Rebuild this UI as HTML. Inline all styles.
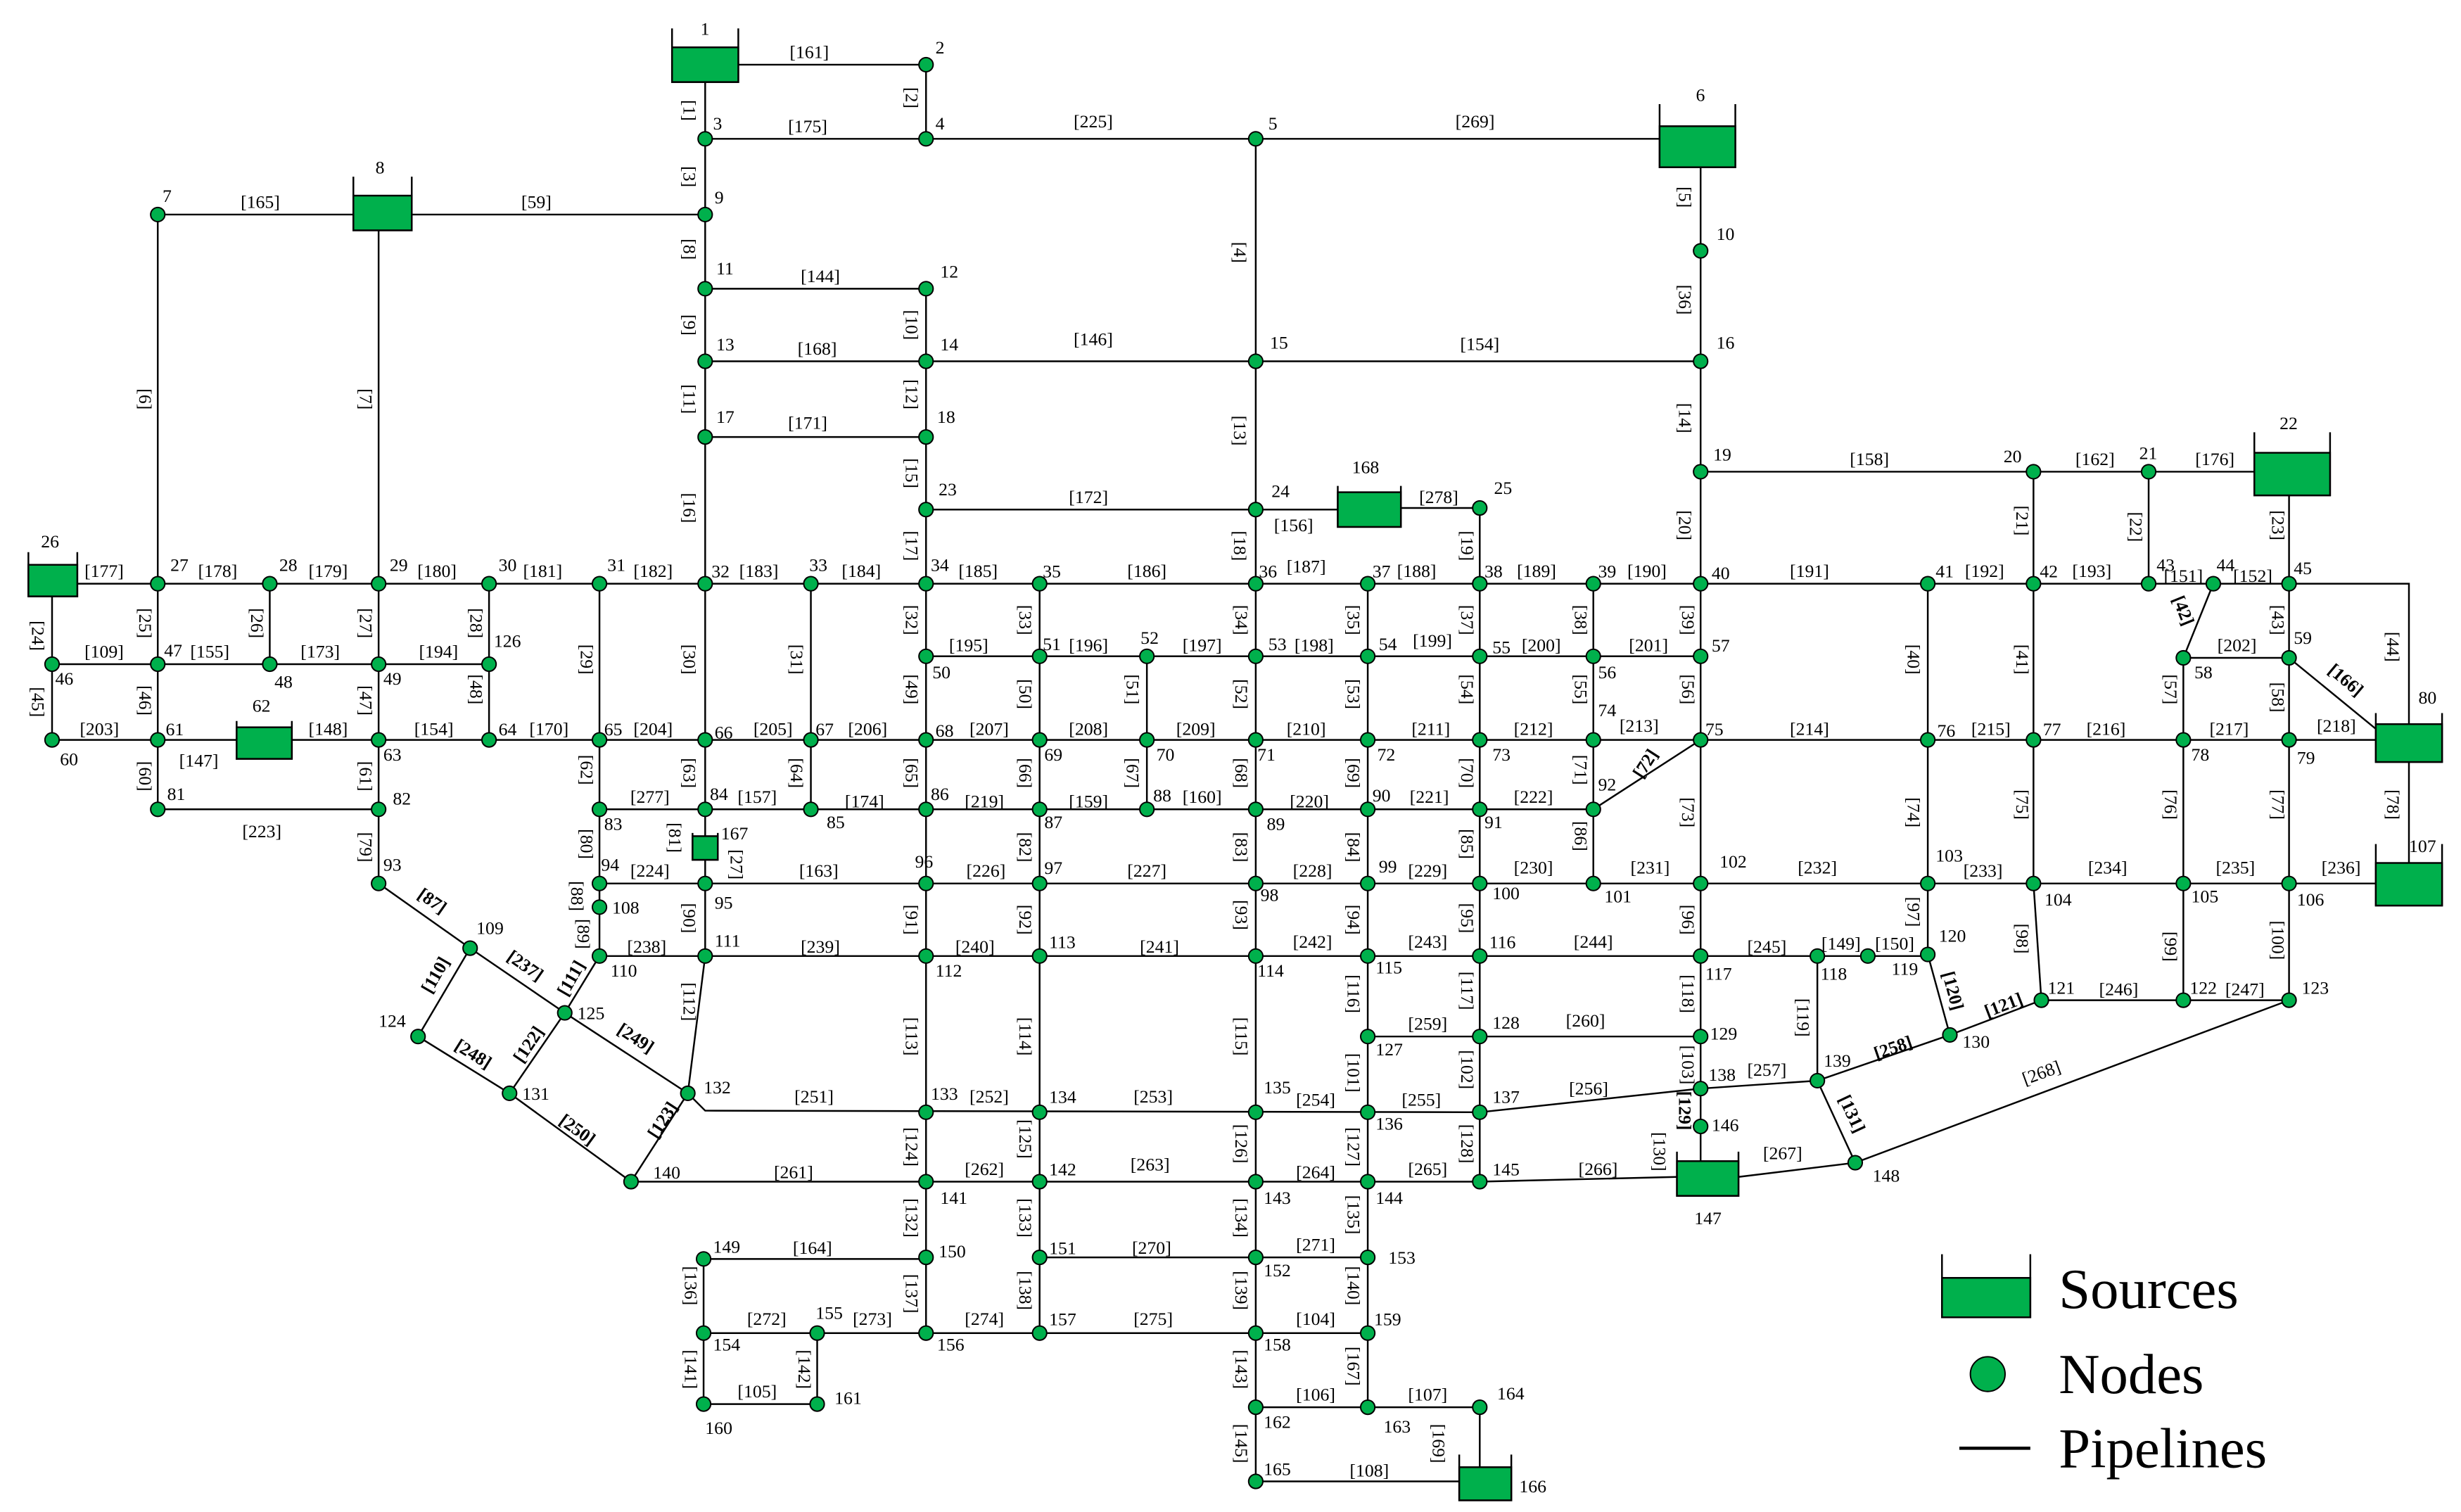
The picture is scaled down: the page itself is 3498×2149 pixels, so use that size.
<!DOCTYPE html>
<html><head><meta charset="utf-8"><style>
html,body{margin:0;padding:0;background:#fff}
svg{display:block}
text{font-family:"Liberation Serif",serif;fill:#000}
.n{font-size:11.5px}
.p{font-size:11.5px;text-anchor:middle;dominant-baseline:central}
.b{font-weight:bold}
line,polyline{stroke:#000;stroke-width:1.1;fill:none}
circle{fill:#00b04c;stroke:#000;stroke-width:0.9}
.g{fill:#00b04c;stroke:#000;stroke-width:1.1}
</style></head><body>
<svg width="3498" height="2149" viewBox="0 0 1560 958.4" preserveAspectRatio="none" xmlns="http://www.w3.org/2000/svg">
<rect width="1560" height="959" fill="#fff"/>
<g>
<!-- edges -->
<line x1="447" y1="41" x2="587" y2="41"/>
<line x1="587" y1="41" x2="587" y2="88"/>
<line x1="447" y1="41" x2="447" y2="606"/>
<line x1="447" y1="88" x2="1076" y2="88"/>
<line x1="796" y1="88" x2="796" y2="939"/>
<line x1="1078" y1="93" x2="1078" y2="749"/>
<line x1="100" y1="136" x2="447" y2="136"/>
<line x1="100" y1="136" x2="100" y2="513"/>
<line x1="240" y1="136" x2="240" y2="560"/>
<line x1="447" y1="183" x2="587" y2="183"/>
<line x1="447" y1="229" x2="1078" y2="229"/>
<line x1="447" y1="277" x2="587" y2="277"/>
<line x1="587" y1="183" x2="587" y2="845"/>
<line x1="1078" y1="299" x2="1452" y2="299"/>
<line x1="1289" y1="299" x2="1289" y2="560"/>
<line x1="1362" y1="299" x2="1362" y2="370"/>
<line x1="1451" y1="299" x2="1451" y2="634"/>
<line x1="587" y1="323" x2="848" y2="323"/>
<line x1="888" y1="322" x2="938" y2="322"/>
<line x1="938" y1="322" x2="938" y2="749"/>
<line x1="33" y1="370" x2="1451" y2="370"/>
<polyline points="1451,370 1527,370 1527,459"/>
<line x1="1527" y1="483" x2="1527" y2="547"/>
<line x1="33" y1="370" x2="33" y2="469"/>
<line x1="33" y1="421" x2="310" y2="421"/>
<line x1="171" y1="370" x2="171" y2="421"/>
<line x1="310" y1="370" x2="310" y2="469"/>
<line x1="380" y1="370" x2="380" y2="606"/>
<line x1="514" y1="370" x2="514" y2="513"/>
<line x1="659" y1="370" x2="659" y2="845"/>
<line x1="867" y1="370" x2="867" y2="513"/>
<line x1="1010" y1="370" x2="1010" y2="560"/>
<line x1="1222" y1="370" x2="1222" y2="605"/>
<line x1="1403" y1="370" x2="1384" y2="417"/>
<line x1="1384" y1="417" x2="1384" y2="634"/>
<line x1="587" y1="416" x2="1078" y2="416"/>
<line x1="727" y1="416" x2="727" y2="513"/>
<line x1="1384" y1="417" x2="1451" y2="417"/>
<line x1="1451" y1="417" x2="1506" y2="462"/>
<line x1="33" y1="469" x2="1506" y2="469"/>
<line x1="100" y1="513" x2="240" y2="513"/>
<line x1="380" y1="513" x2="1010" y2="513"/>
<line x1="1078" y1="469" x2="1010" y2="513"/>
<line x1="867" y1="513" x2="867" y2="606"/>
<line x1="380" y1="560" x2="1506" y2="560"/>
<line x1="240" y1="560" x2="298" y2="601"/>
<line x1="298" y1="601" x2="358" y2="642"/>
<line x1="298" y1="601" x2="265" y2="657"/>
<line x1="380" y1="606" x2="358" y2="642"/>
<line x1="358" y1="642" x2="436" y2="693"/>
<line x1="265" y1="657" x2="323" y2="693"/>
<line x1="358" y1="642" x2="323" y2="693"/>
<line x1="323" y1="693" x2="400" y2="749"/>
<line x1="436" y1="693" x2="400" y2="749"/>
<line x1="380" y1="606" x2="1222" y2="606"/>
<line x1="447" y1="606" x2="436" y2="693"/>
<polyline points="436,693 447,704 938,705"/>
<line x1="867" y1="606" x2="867" y2="892"/>
<line x1="867" y1="657" x2="1078" y2="657"/>
<line x1="938" y1="705" x2="1078" y2="690"/>
<line x1="1078" y1="690" x2="1152" y2="685"/>
<line x1="1152" y1="606" x2="1152" y2="685"/>
<line x1="1152" y1="685" x2="1236" y2="656"/>
<line x1="1152" y1="685" x2="1176" y2="737"/>
<line x1="1222" y1="605" x2="1236" y2="656"/>
<line x1="1236" y1="656" x2="1294" y2="634"/>
<line x1="1289" y1="560" x2="1294" y2="634"/>
<line x1="1294" y1="634" x2="1451" y2="634"/>
<line x1="1451" y1="634" x2="1176" y2="737"/>
<line x1="1102" y1="746" x2="1176" y2="737"/>
<line x1="400" y1="749" x2="938" y2="749"/>
<line x1="938" y1="749" x2="1063" y2="746"/>
<line x1="446" y1="798" x2="587" y2="798"/>
<line x1="446" y1="798" x2="446" y2="890"/>
<line x1="659" y1="797" x2="867" y2="797"/>
<line x1="446" y1="845" x2="867" y2="845"/>
<line x1="518" y1="845" x2="518" y2="890"/>
<line x1="446" y1="890" x2="518" y2="890"/>
<line x1="796" y1="892" x2="938" y2="892"/>
<line x1="938" y1="892" x2="938" y2="930"/>
<line x1="796" y1="939" x2="925" y2="939"/>
</g>
<g>
<!-- tanks -->
<polyline points="426,18 426,52 468,52 468,18"/><rect class="g" x="426" y="30" width="42" height="22"/>
<polyline points="1052,66 1052,106 1100,106 1100,66"/><rect class="g" x="1052" y="80" width="48" height="26"/>
<polyline points="224,112 224,146 261,146 261,112"/><rect class="g" x="224" y="124" width="37" height="22"/>
<polyline points="1429,274 1429,314 1477,314 1477,274"/><rect class="g" x="1429" y="287" width="48" height="27"/>
<polyline points="18,350 18,378 49,378 49,350"/><rect class="g" x="18" y="358" width="31" height="20"/>
<polyline points="150,457 150,481 185,481 185,457"/><rect class="g" x="150" y="461" width="35" height="20"/>
<polyline points="1506,452 1506,483 1548,483 1548,452"/><rect class="g" x="1506" y="459" width="42" height="24"/>
<polyline points="1506,535 1506,574 1548,574 1548,535"/><rect class="g" x="1506" y="547" width="42" height="27"/>
<polyline points="848,308 848,334 888,334 888,308"/><rect class="g" x="848" y="312" width="40" height="22"/>
<polyline points="439,528 439,545 455,545 455,528"/><rect class="g" x="439" y="530" width="16" height="15"/>
<polyline points="1063,730 1063,758 1102,758 1102,730"/><rect class="g" x="1063" y="736" width="39" height="22"/>
<polyline points="925,922 925,951 958,951 958,922"/><rect class="g" x="925" y="930" width="33" height="21"/>
<polyline points="1231,795 1231,835 1287,835 1287,795"/><rect class="g" x="1231" y="810" width="56" height="25"/>
<circle cx="1260" cy="871" r="11"/>
<line x1="1242" y1="918" x2="1287" y2="918" style="stroke-width:2"/>
<text x="1305" y="829" style="font-size:36px">Sources</text>
<text x="1305" y="883" style="font-size:36px">Nodes</text>
<text x="1305" y="930" style="font-size:36px">Pipelines</text>
</g>
<g>
<!-- nodes -->
<circle cx="587" cy="41" r="4.5"/><circle cx="447" cy="88" r="4.5"/><circle cx="587" cy="88" r="4.5"/><circle cx="796" cy="88" r="4.5"/>
<circle cx="100" cy="136" r="4.5"/><circle cx="447" cy="136" r="4.5"/><circle cx="1078" cy="159" r="4.5"/>
<circle cx="447" cy="183" r="4.5"/><circle cx="587" cy="183" r="4.5"/>
<circle cx="447" cy="229" r="4.5"/><circle cx="587" cy="229" r="4.5"/><circle cx="796" cy="229" r="4.5"/><circle cx="1078" cy="229" r="4.5"/>
<circle cx="447" cy="277" r="4.5"/><circle cx="587" cy="277" r="4.5"/>
<circle cx="1078" cy="299" r="4.5"/><circle cx="1289" cy="299" r="4.5"/><circle cx="1362" cy="299" r="4.5"/>
<circle cx="587" cy="323" r="4.5"/><circle cx="796" cy="323" r="4.5"/><circle cx="938" cy="322" r="4.5"/>
<circle cx="100" cy="370" r="4.5"/><circle cx="171" cy="370" r="4.5"/><circle cx="240" cy="370" r="4.5"/><circle cx="310" cy="370" r="4.5"/><circle cx="380" cy="370" r="4.5"/><circle cx="447" cy="370" r="4.5"/><circle cx="514" cy="370" r="4.5"/><circle cx="587" cy="370" r="4.5"/><circle cx="659" cy="370" r="4.5"/><circle cx="796" cy="370" r="4.5"/><circle cx="867" cy="370" r="4.5"/><circle cx="938" cy="370" r="4.5"/><circle cx="1010" cy="370" r="4.5"/><circle cx="1078" cy="370" r="4.5"/><circle cx="1222" cy="370" r="4.5"/><circle cx="1289" cy="370" r="4.5"/><circle cx="1362" cy="370" r="4.5"/><circle cx="1403" cy="370" r="4.5"/><circle cx="1451" cy="370" r="4.5"/>
<circle cx="33" cy="421" r="4.5"/><circle cx="100" cy="421" r="4.5"/><circle cx="171" cy="421" r="4.5"/><circle cx="240" cy="421" r="4.5"/><circle cx="310" cy="421" r="4.5"/>
<circle cx="587" cy="416" r="4.5"/><circle cx="659" cy="416" r="4.5"/><circle cx="727" cy="416" r="4.5"/><circle cx="796" cy="416" r="4.5"/><circle cx="867" cy="416" r="4.5"/><circle cx="938" cy="416" r="4.5"/><circle cx="1010" cy="416" r="4.5"/><circle cx="1078" cy="416" r="4.5"/><circle cx="1384" cy="417" r="4.5"/><circle cx="1451" cy="417" r="4.5"/>
<circle cx="33" cy="469" r="4.5"/><circle cx="100" cy="469" r="4.5"/><circle cx="240" cy="469" r="4.5"/><circle cx="310" cy="469" r="4.5"/><circle cx="380" cy="469" r="4.5"/><circle cx="447" cy="469" r="4.5"/><circle cx="514" cy="469" r="4.5"/><circle cx="587" cy="469" r="4.5"/><circle cx="659" cy="469" r="4.5"/><circle cx="727" cy="469" r="4.5"/><circle cx="796" cy="469" r="4.5"/><circle cx="867" cy="469" r="4.5"/><circle cx="938" cy="469" r="4.5"/><circle cx="1010" cy="469" r="4.5"/><circle cx="1078" cy="469" r="4.5"/><circle cx="1222" cy="469" r="4.5"/><circle cx="1289" cy="469" r="4.5"/><circle cx="1384" cy="469" r="4.5"/><circle cx="1451" cy="469" r="4.5"/>
<circle cx="100" cy="513" r="4.5"/><circle cx="240" cy="513" r="4.5"/><circle cx="380" cy="513" r="4.5"/><circle cx="447" cy="513" r="4.5"/><circle cx="514" cy="513" r="4.5"/><circle cx="587" cy="513" r="4.5"/><circle cx="659" cy="513" r="4.5"/><circle cx="727" cy="513" r="4.5"/><circle cx="796" cy="513" r="4.5"/><circle cx="867" cy="513" r="4.5"/><circle cx="938" cy="513" r="4.5"/><circle cx="1010" cy="513" r="4.5"/>
<circle cx="240" cy="560" r="4.5"/><circle cx="380" cy="560" r="4.5"/><circle cx="447" cy="560" r="4.5"/><circle cx="587" cy="560" r="4.5"/><circle cx="659" cy="560" r="4.5"/><circle cx="796" cy="560" r="4.5"/><circle cx="867" cy="560" r="4.5"/><circle cx="938" cy="560" r="4.5"/><circle cx="1010" cy="560" r="4.5"/><circle cx="1078" cy="560" r="4.5"/><circle cx="1222" cy="560" r="4.5"/><circle cx="1289" cy="560" r="4.5"/><circle cx="1384" cy="560" r="4.5"/><circle cx="1451" cy="560" r="4.5"/>
<circle cx="380" cy="575" r="4.5"/><circle cx="298" cy="601" r="4.5"/>
<circle cx="380" cy="606" r="4.5"/><circle cx="447" cy="606" r="4.5"/><circle cx="587" cy="606" r="4.5"/><circle cx="659" cy="606" r="4.5"/><circle cx="796" cy="606" r="4.5"/><circle cx="867" cy="606" r="4.5"/><circle cx="938" cy="606" r="4.5"/><circle cx="1078" cy="606" r="4.5"/><circle cx="1152" cy="606" r="4.5"/><circle cx="1184" cy="606" r="4.5"/><circle cx="1222" cy="605" r="4.5"/>
<circle cx="358" cy="642" r="4.5"/><circle cx="265" cy="657" r="4.5"/><circle cx="1294" cy="634" r="4.5"/><circle cx="1384" cy="634" r="4.5"/><circle cx="1451" cy="634" r="4.5"/>
<circle cx="867" cy="657" r="4.5"/><circle cx="938" cy="657" r="4.5"/><circle cx="1078" cy="657" r="4.5"/><circle cx="1236" cy="656" r="4.5"/>
<circle cx="436" cy="693" r="4.5"/><circle cx="323" cy="693" r="4.5"/><circle cx="587" cy="705" r="4.5"/><circle cx="659" cy="705" r="4.5"/><circle cx="796" cy="705" r="4.5"/><circle cx="867" cy="705" r="4.5"/><circle cx="938" cy="705" r="4.5"/><circle cx="1078" cy="690" r="4.5"/><circle cx="1152" cy="685" r="4.5"/><circle cx="1078" cy="714" r="4.5"/>
<circle cx="400" cy="749" r="4.5"/><circle cx="587" cy="749" r="4.5"/><circle cx="659" cy="749" r="4.5"/><circle cx="796" cy="749" r="4.5"/><circle cx="867" cy="749" r="4.5"/><circle cx="938" cy="749" r="4.5"/><circle cx="1176" cy="737" r="4.5"/>
<circle cx="446" cy="798" r="4.5"/><circle cx="587" cy="797" r="4.5"/><circle cx="659" cy="797" r="4.5"/><circle cx="796" cy="797" r="4.5"/><circle cx="867" cy="797" r="4.5"/>
<circle cx="446" cy="845" r="4.5"/><circle cx="518" cy="845" r="4.5"/><circle cx="587" cy="845" r="4.5"/><circle cx="659" cy="845" r="4.5"/><circle cx="796" cy="845" r="4.5"/><circle cx="867" cy="845" r="4.5"/>
<circle cx="446" cy="890" r="4.5"/><circle cx="518" cy="890" r="4.5"/><circle cx="796" cy="892" r="4.5"/><circle cx="867" cy="892" r="4.5"/><circle cx="938" cy="892" r="4.5"/><circle cx="796" cy="939" r="4.5"/>
</g>
<g class="n">
<text x="444" y="22">1</text><text x="593" y="34">2</text><text x="452" y="82">3</text><text x="593" y="82">4</text><text x="804" y="82">5</text><text x="1075" y="64">6</text>
<text x="103" y="128">7</text><text x="238" y="110">8</text><text x="453" y="129">9</text><text x="1088" y="152">10</text><text x="454" y="174">11</text><text x="596" y="176">12</text>
<text x="454" y="222">13</text><text x="596" y="222">14</text><text x="805" y="221">15</text><text x="1088" y="221">16</text><text x="454" y="268">17</text><text x="594" y="268">18</text>
<text x="1086" y="292">19</text><text x="1270" y="293">20</text><text x="1356" y="291">21</text><text x="1445" y="272">22</text><text x="595" y="314">23</text><text x="806" y="315">24</text><text x="947" y="313">25</text><text x="26" y="347">26</text>
<text x="108" y="362">27</text><text x="177" y="362">28</text><text x="247" y="362">29</text><text x="316" y="362">30</text><text x="385" y="362">31</text><text x="451" y="366">32</text><text x="513" y="362">33</text><text x="590" y="362">34</text><text x="661" y="366">35</text><text x="798" y="366">36</text><text x="870" y="366">37</text><text x="941" y="366">38</text><text x="1013" y="366">39</text><text x="1085" y="367">40</text><text x="1227" y="366">41</text><text x="1293" y="366">42</text><text x="1367" y="362">43</text><text x="1405" y="362">44</text><text x="1454" y="364">45</text>
<text x="35" y="434">46</text><text x="104" y="416">47</text><text x="174" y="436">48</text><text x="243" y="434">49</text><text x="591" y="430">50</text><text x="661" y="412">51</text><text x="723" y="408">52</text><text x="804" y="412">53</text><text x="874" y="412">54</text><text x="946" y="414">55</text><text x="1013" y="430">56</text><text x="1085" y="413">57</text><text x="1391" y="430">58</text><text x="1454" y="408">59</text>
<text x="38" y="485">60</text><text x="105" y="466">61</text><text x="160" y="451">62</text><text x="243" y="482">63</text><text x="316" y="466">64</text><text x="383" y="466">65</text><text x="453" y="468">66</text><text x="517" y="466">67</text><text x="593" y="467">68</text><text x="662" y="482">69</text><text x="733" y="482">70</text><text x="797" y="482">71</text><text x="873" y="482">72</text><text x="946" y="482">73</text><text x="1013" y="454">74</text><text x="1081" y="466">75</text><text x="1228" y="467">76</text><text x="1295" y="466">77</text><text x="1389" y="482">78</text><text x="1456" y="484">79</text><text x="1533" y="446">80</text>
<text x="106" y="507">81</text><text x="249" y="510">82</text><text x="383" y="526">83</text><text x="450" y="507">84</text><text x="524" y="525">85</text><text x="590" y="507">86</text><text x="662" y="525">87</text><text x="731" y="508">88</text><text x="803" y="526">89</text><text x="870" y="508">90</text><text x="941" y="525">91</text><text x="1013" y="501">92</text>
<text x="243" y="552">93</text><text x="381" y="552">94</text><text x="453" y="576">95</text><text x="580" y="550">96</text><text x="662" y="554">97</text><text x="799" y="571">98</text><text x="874" y="553">99</text><text x="946" y="570">100</text><text x="1017" y="572">101</text><text x="1090" y="550">102</text><text x="1227" y="546">103</text><text x="1296" y="574">104</text><text x="1389" y="572">105</text><text x="1456" y="574">106</text><text x="1527" y="540">107</text>
<text x="388" y="579">108</text><text x="302" y="592">109</text><text x="387" y="619">110</text><text x="453" y="600">111</text><text x="593" y="619">112</text><text x="665" y="601">113</text><text x="797" y="619">114</text><text x="872" y="617">115</text><text x="944" y="601">116</text><text x="1081" y="621">117</text><text x="1154" y="621">118</text><text x="1199" y="618">119</text><text x="1229" y="597">120</text><text x="1298" y="630">121</text><text x="1388" y="630">122</text><text x="1459" y="630">123</text>
<text x="240" y="651">124</text><text x="366" y="646">125</text><text x="872" y="669">127</text><text x="946" y="652">128</text><text x="1084" y="659">129</text><text x="1244" y="664">130</text><text x="331" y="697">131</text><text x="446" y="693">132</text><text x="590" y="697">133</text><text x="665" y="699">134</text><text x="801" y="693">135</text><text x="872" y="716">136</text><text x="946" y="699">137</text><text x="1083" y="685">138</text><text x="1156" y="676">139</text>
<text x="414" y="747">140</text><text x="596" y="763">141</text><text x="665" y="745">142</text><text x="801" y="763">143</text><text x="872" y="763">144</text><text x="946" y="745">145</text><text x="1085" y="717">146</text><text x="1074" y="776">147</text><text x="1187" y="749">148</text>
<text x="452" y="794">149</text><text x="595" y="797">150</text><text x="665" y="795">151</text><text x="801" y="809">152</text><text x="880" y="801">153</text><text x="452" y="856">154</text><text x="517" y="836">155</text><text x="594" y="856">156</text><text x="665" y="840">157</text><text x="801" y="856">158</text><text x="871" y="840">159</text><text x="447" y="909">160</text><text x="529" y="890">161</text><text x="801" y="905">162</text><text x="877" y="908">163</text><text x="949" y="887">164</text><text x="801" y="935">165</text><text x="963" y="946">166</text><text x="457" y="532">167</text><text x="857" y="300">168</text><text x="313" y="410">126</text>
</g>
<g class="p">
<text x="513" y="33">[161]</text><text x="512" y="80">[175]</text><text x="693" y="77">[225]</text><text x="935" y="77">[269]</text>
<text x="165" y="128">[165]</text><text x="340" y="128">[59]</text><text x="520" y="175">[144]</text><text x="518" y="221">[168]</text><text x="693" y="215">[146]</text><text x="938" y="218">[154]</text><text x="512" y="268">[171]</text>
<text x="1185" y="291">[158]</text><text x="1328" y="291">[162]</text><text x="1404" y="291">[176]</text><text x="690" y="315">[172]</text><text x="820" y="333">[156]</text><text x="912" y="315">[278]</text>
<text x="66" y="362">[177]</text><text x="138" y="362">[178]</text><text x="208" y="362">[179]</text><text x="277" y="362">[180]</text><text x="344" y="362">[181]</text><text x="414" y="362">[182]</text><text x="481" y="362">[183]</text><text x="546" y="362">[184]</text><text x="620" y="362">[185]</text><text x="727" y="362">[186]</text><text x="828" y="359">[187]</text><text x="898" y="362">[188]</text><text x="974" y="362">[189]</text><text x="1044" y="362">[190]</text><text x="1147" y="362">[191]</text><text x="1258" y="362">[192]</text><text x="1326" y="362">[193]</text><text x="1384" y="365">[151]</text><text x="1428" y="365">[152]</text>
<text x="66" y="413">[109]</text><text x="133" y="413">[155]</text><text x="203" y="413">[173]</text><text x="278" y="413">[194]</text>
<text x="614" y="409">[195]</text><text x="690" y="409">[196]</text><text x="762" y="409">[197]</text><text x="833" y="409">[198]</text><text x="908" y="406">[199]</text><text x="977" y="409">[200]</text><text x="1045" y="409">[201]</text><text x="1418" y="409">[202]</text>
<text x="63" y="462">[203]</text><text x="126" y="482">[147]</text><text x="208" y="462">[148]</text><text x="275" y="462">[154]</text><text x="348" y="462">[170]</text><text x="414" y="462">[204]</text><text x="490" y="462">[205]</text><text x="550" y="462">[206]</text><text x="627" y="462">[207]</text><text x="690" y="462">[208]</text><text x="758" y="462">[209]</text><text x="828" y="462">[210]</text><text x="907" y="462">[211]</text><text x="972" y="462">[212]</text><text x="1039" y="460">[213]</text><text x="1147" y="462">[214]</text><text x="1262" y="462">[215]</text><text x="1335" y="462">[216]</text><text x="1413" y="462">[217]</text><text x="1481" y="460">[218]</text>
<text x="166" y="527">[223]</text><text x="412" y="505">[277]</text><text x="480" y="505">[157]</text><text x="548" y="508">[174]</text><text x="624" y="508">[219]</text><text x="690" y="508">[159]</text><text x="762" y="505">[160]</text><text x="830" y="508">[220]</text><text x="906" y="505">[221]</text><text x="972" y="505">[222]</text>
<text x="412" y="552">[224]</text><text x="519" y="552">[163]</text><text x="625" y="552">[226]</text><text x="727" y="552">[227]</text><text x="832" y="552">[228]</text><text x="905" y="552">[229]</text><text x="972" y="550">[230]</text><text x="1046" y="550">[231]</text><text x="1152" y="550">[232]</text><text x="1257" y="552">[233]</text><text x="1336" y="550">[234]</text><text x="1417" y="550">[235]</text><text x="1484" y="550">[236]</text>
<text x="410" y="600">[238]</text><text x="520" y="600">[239]</text><text x="618" y="600">[240]</text><text x="735" y="600">[241]</text><text x="832" y="597">[242]</text><text x="905" y="597">[243]</text><text x="1010" y="597">[244]</text><text x="1120" y="600">[245]</text><text x="1167" y="598">[149]</text><text x="1201" y="598">[150]</text><text x="1343" y="627">[246]</text><text x="1423" y="627">[247]</text>
<text x="905" y="649">[259]</text><text x="1005" y="647">[260]</text><text x="1120" y="678">[257]</text><text x="516" y="695">[251]</text><text x="627" y="695">[252]</text><text x="731" y="695">[253]</text><text x="834" y="697">[254]</text><text x="901" y="697">[255]</text><text x="1007" y="690">[256]</text><text x="1130" y="731">[267]</text>
<text x="503" y="743">[261]</text><text x="624" y="741">[262]</text><text x="729" y="738">[263]</text><text x="834" y="743">[264]</text><text x="905" y="741">[265]</text><text x="1013" y="741">[266]</text>
<text x="515" y="791">[164]</text><text x="730" y="791">[270]</text><text x="834" y="789">[271]</text><text x="486" y="836">[272]</text><text x="553" y="836">[273]</text><text x="624" y="836">[274]</text><text x="731" y="836">[275]</text><text x="834" y="836">[104]</text><text x="480" y="882">[105]</text><text x="834" y="884">[106]</text><text x="905" y="884">[107]</text><text x="868" y="932">[108]</text>
<!-- vertical labels -->
<text transform="translate(578,62) rotate(90)">[2]</text><text transform="translate(437,70) rotate(90)">[1]</text><text transform="translate(437,112) rotate(90)">[3]</text><text transform="translate(1068,125) rotate(90)">[5]</text>
<text transform="translate(92,253) rotate(90)">[6]</text><text transform="translate(232,253) rotate(90)">[7]</text><text transform="translate(437,158) rotate(90)">[8]</text><text transform="translate(437,206) rotate(90)">[9]</text><text transform="translate(578,206) rotate(90)">[10]</text><text transform="translate(786,160) rotate(90)">[4]</text><text transform="translate(1068,190) rotate(90)">[36]</text>
<text transform="translate(437,253) rotate(90)">[11]</text><text transform="translate(578,250) rotate(90)">[12]</text><text transform="translate(786,273) rotate(90)">[13]</text><text transform="translate(1068,265) rotate(90)">[14]</text><text transform="translate(578,300) rotate(90)">[15]</text><text transform="translate(437,322) rotate(90)">[16]</text>
<text transform="translate(786,346) rotate(90)">[18]</text><text transform="translate(578,346) rotate(90)">[17]</text><text transform="translate(930,346) rotate(90)">[19]</text><text transform="translate(1068,333) rotate(90)">[20]</text><text transform="translate(1282,330) rotate(90)">[21]</text><text transform="translate(1354,334) rotate(90)">[22]</text><text transform="translate(1444,333) rotate(90)">[23]</text><text transform="translate(1517,410) rotate(90)">[44]</text>
<text transform="translate(24,403) rotate(90)">[24]</text><text transform="translate(24,445) rotate(90)">[45]</text><text transform="translate(92,395) rotate(90)">[25]</text><text transform="translate(163,395) rotate(90)">[26]</text><text transform="translate(232,395) rotate(90)">[27]</text><text transform="translate(302,395) rotate(90)">[28]</text><text transform="translate(372,418) rotate(90)">[29]</text><text transform="translate(437,418) rotate(90)">[30]</text><text transform="translate(505,418) rotate(90)">[31]</text><text transform="translate(578,393) rotate(90)">[32]</text><text transform="translate(650,393) rotate(90)">[33]</text><text transform="translate(787,393) rotate(90)">[34]</text><text transform="translate(858,393) rotate(90)">[35]</text><text transform="translate(930,393) rotate(90)">[37]</text><text transform="translate(1002,393) rotate(90)">[38]</text><text transform="translate(1070,393) rotate(90)">[39]</text><text transform="translate(1213,418) rotate(90)">[40]</text><text transform="translate(1282,418) rotate(90)">[41]</text><text transform="translate(1444,393) rotate(90)">[43]</text>
<text transform="translate(92,444) rotate(90)">[46]</text><text transform="translate(232,444) rotate(90)">[47]</text><text transform="translate(302,437) rotate(90)">[48]</text><text transform="translate(578,437) rotate(90)">[49]</text><text transform="translate(650,440) rotate(90)">[50]</text><text transform="translate(718,437) rotate(90)">[51]</text><text transform="translate(787,440) rotate(90)">[52]</text><text transform="translate(858,440) rotate(90)">[53]</text><text transform="translate(930,437) rotate(90)">[54]</text><text transform="translate(1002,437) rotate(90)">[55]</text><text transform="translate(1070,437) rotate(90)">[56]</text><text transform="translate(1376,437) rotate(90)">[57]</text><text transform="translate(1444,442) rotate(90)">[58]</text>
<text transform="translate(92,492) rotate(90)">[60]</text><text transform="translate(232,492) rotate(90)">[61]</text><text transform="translate(372,488) rotate(90)">[62]</text><text transform="translate(437,490) rotate(90)">[63]</text><text transform="translate(505,490) rotate(90)">[64]</text><text transform="translate(578,490) rotate(90)">[65]</text><text transform="translate(650,490) rotate(90)">[66]</text><text transform="translate(718,490) rotate(90)">[67]</text><text transform="translate(787,490) rotate(90)">[68]</text><text transform="translate(858,490) rotate(90)">[69]</text><text transform="translate(930,490) rotate(90)">[70]</text><text transform="translate(1002,488) rotate(90)">[71]</text>
<text transform="translate(1070,515) rotate(90)">[73]</text><text transform="translate(1213,515) rotate(90)">[74]</text><text transform="translate(1282,510) rotate(90)">[75]</text><text transform="translate(1376,510) rotate(90)">[76]</text><text transform="translate(1444,510) rotate(90)">[77]</text><text transform="translate(1517,510) rotate(90)">[78]</text>
<text transform="translate(232,537) rotate(90)">[79]</text><text transform="translate(372,535) rotate(90)">[80]</text><text transform="translate(428,531) rotate(90)">[81]</text><text transform="translate(467,548) rotate(90)">[27]</text><text transform="translate(650,537) rotate(90)">[82]</text><text transform="translate(787,537) rotate(90)">[83]</text><text transform="translate(858,537) rotate(90)">[84]</text><text transform="translate(930,535) rotate(90)">[85]</text><text transform="translate(1002,530) rotate(90)">[86]</text>
<text transform="translate(366,568) rotate(90)">[88]</text><text transform="translate(370,592) rotate(90)">[89]</text><text transform="translate(437,582) rotate(90)">[90]</text><text transform="translate(578,583) rotate(90)">[91]</text><text transform="translate(650,583) rotate(90)">[92]</text><text transform="translate(787,580) rotate(90)">[93]</text><text transform="translate(858,583) rotate(90)">[94]</text><text transform="translate(930,582) rotate(90)">[95]</text><text transform="translate(1070,583) rotate(90)">[96]</text><text transform="translate(1213,578) rotate(90)">[97]</text><text transform="translate(1282,595) rotate(90)">[98]</text><text transform="translate(1376,600) rotate(90)">[99]</text><text transform="translate(1444,596) rotate(90)">[100]</text>
<text transform="translate(437,635) rotate(90)">[112]</text><text transform="translate(578,657) rotate(90)">[113]</text><text transform="translate(650,657) rotate(90)">[114]</text><text transform="translate(787,657) rotate(90)">[115]</text><text transform="translate(858,630) rotate(90)">[116]</text><text transform="translate(930,628) rotate(90)">[117]</text><text transform="translate(1070,630) rotate(90)">[118]</text><text transform="translate(1143,645) rotate(90)">[119]</text><text transform="translate(858,680) rotate(90)">[101]</text><text transform="translate(930,678) rotate(90)">[102]</text><text transform="translate(1070,675) rotate(90)">[103]</text><text transform="translate(1068,704) rotate(90)" class="b">[129]</text>
<text transform="translate(578,727) rotate(90)">[124]</text><text transform="translate(650,722) rotate(90)">[125]</text><text transform="translate(787,725) rotate(90)">[126]</text><text transform="translate(858,727) rotate(90)">[127]</text><text transform="translate(930,725) rotate(90)">[128]</text><text transform="translate(1052,730) rotate(90)">[130]</text>
<text transform="translate(578,772) rotate(90)">[132]</text><text transform="translate(650,772) rotate(90)">[133]</text><text transform="translate(787,772) rotate(90)">[134]</text><text transform="translate(858,770) rotate(90)">[135]</text><text transform="translate(438,815) rotate(90)">[136]</text><text transform="translate(578,820) rotate(90)">[137]</text><text transform="translate(650,818) rotate(90)">[138]</text><text transform="translate(787,818) rotate(90)">[139]</text><text transform="translate(858,815) rotate(90)">[140]</text>
<text transform="translate(438,868) rotate(90)">[141]</text><text transform="translate(510,868) rotate(90)">[142]</text><text transform="translate(787,868) rotate(90)">[143]</text><text transform="translate(858,866) rotate(90)">[167]</text><text transform="translate(787,915) rotate(90)">[145]</text><text transform="translate(912,915) rotate(90)">[169]</text>
<!-- diagonal labels -->
<text class="b" transform="translate(1384,387) rotate(68)">[42]</text><text class="b" transform="translate(1487,431) rotate(40)">[166]</text><text class="b" transform="translate(1043,484) rotate(-57)">[72]</text>
<text class="b" transform="translate(274,571) rotate(35)">[87]</text><text class="b" transform="translate(333,612) rotate(35)">[237]</text><text class="b" transform="translate(276,618) rotate(-60)">[110]</text><text class="b" transform="translate(362,620) rotate(-60)">[111]</text><text class="b" transform="translate(403,658) rotate(33)">[249]</text><text class="b" transform="translate(300,668) rotate(32)">[248]</text><text class="b" transform="translate(335,662) rotate(-56)">[122]</text><text class="b" transform="translate(366,716) rotate(36)">[250]</text><text class="b" transform="translate(420,710) rotate(-57)">[123]</text>
<text class="b" transform="translate(1238,628) rotate(75)">[120]</text><text class="b" transform="translate(1270,637) rotate(-21)">[121]</text><text class="b" transform="translate(1200,664) rotate(-19)">[258]</text><text class="b" transform="translate(1174,706) rotate(65)">[131]</text><text transform="translate(1294,680) rotate(-20)">[268]</text>
</g>
</svg>
</body></html>
